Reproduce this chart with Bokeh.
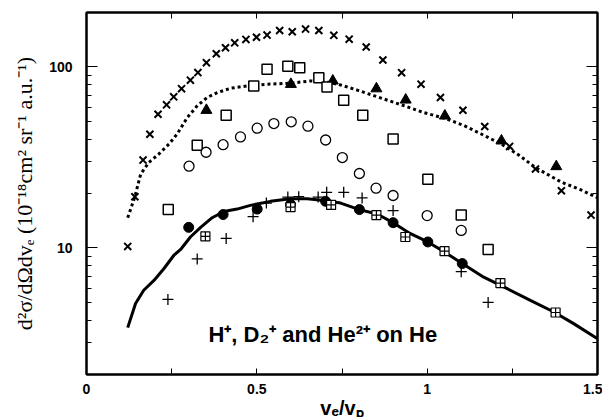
from bokeh.plotting import figure
from bokeh.models import Range1d, FixedTicker, LinearAxis, LogAxis, Label
from bokeh.embed import file_html
from bokeh.resources import INLINE

# ---- data ----
x_ticks = [0, 0.25, 0.5, 0.75, 1.0, 1.25, 1.5]
x_tick_labels = {0: "0", 0.25: "", 0.5: "0.5", 0.75: "", 1.0: "1", 1.25: "", 1.5: "1.5"}
y_major = [10, 100]
y_minor = [2, 3, 4, 5, 6, 7, 8, 9, 20, 30, 40, 50, 60, 70, 80, 90, 200]

# x (crosses, diagonal)
xx = [0.121, 0.142, 0.166, 0.186, 0.210, 0.235, 0.256, 0.279, 0.305, 0.327, 0.352, 0.381,
      0.408, 0.435, 0.468, 0.499, 0.530, 0.567, 0.604, 0.643, 0.682, 0.726, 0.771, 0.821,
      0.870, 0.925, 0.982, 1.039, 1.105, 1.169, 1.242, 1.318, 1.394, 1.481]
yx = [10.2, 19.2, 30.6, 42.5, 54.8, 61.8, 68.4, 75.9, 84.6, 93.1, 105.6, 118.4,
      127.7, 136, 142, 146, 150, 159, 156.6, 162, 159, 149.6, 142.5, 128.9,
      109.3, 93, 80.4, 67.8, 57.7, 46.9, 36.4, 27.3, 20.7, 15.2]

# filled triangles
xt = [0.352, 0.600, 0.723, 0.851, 0.937, 1.052, 1.218, 1.379]
yt = [57.7, 80.3, 83.8, 75.9, 65.8, 53.7, 39.1, 28.2]

# dotted theory curve
xd = [0.121, 0.142, 0.159, 0.183, 0.212, 0.242, 0.266, 0.296, 0.325, 0.354, 0.384, 0.423,
      0.472, 0.530, 0.599, 0.658, 0.716, 0.746, 0.795, 0.843, 0.922, 0.990, 1.052, 1.108,
      1.160, 1.218, 1.270, 1.318, 1.394, 1.450, 1.499]
yd = [14.7, 19.2, 25.6, 29.7, 33.0, 37.5, 42.6, 52.6, 61.0, 67.8, 72.2, 76.3,
      78.6, 80.3, 81.3, 83.8, 82.0, 79.5, 74.5, 69.5, 62.0, 56.0, 52.0, 47.5,
      42.5, 37.5, 32.5, 27.8, 23.1, 21.0, 19.0]

# open squares
xs = [0.240, 0.325, 0.410, 0.491, 0.530, 0.591, 0.626, 0.682, 0.706, 0.755, 0.811, 0.900,
      1.002, 1.100, 1.179]
ys = [16.3, 37.0, 54.2, 78.6, 97.1, 101, 99, 87.3, 77.6, 65.6, 54.2, 40.0,
      24.0, 15.2, 9.8]

# open circles
xo = [0.301, 0.351, 0.401, 0.452, 0.501, 0.550, 0.601, 0.650, 0.702, 0.751, 0.801, 0.850,
      0.900, 1.000, 1.100]
yo = [28.3, 33.8, 37.2, 41.1, 45.9, 48.7, 49.8, 47.1, 39.5, 31.6, 25.8, 21.4,
      19.5, 15.1, 12.5]

# plus signs
xp = [0.239, 0.325, 0.410, 0.489, 0.528, 0.591, 0.623, 0.680, 0.705, 0.755, 0.809, 0.900,
      1.100, 1.179]
yp = [5.2, 8.7, 11.3, 14.9, 17.7, 19.1, 19.2, 19.1, 20.3, 20.3, 18.9, 16.1,
      7.4, 5.0]

# filled circles
xf = [0.300, 0.401, 0.501, 0.599, 0.702, 0.801, 0.900, 1.002, 1.103]
yf = [13.0, 15.3, 16.4, 17.4, 18.1, 16.3, 13.8, 10.8, 8.2]

# boxed plus
xq = [0.349, 0.599, 0.718, 0.851, 0.936, 1.051, 1.215, 1.377]
yq = [11.6, 16.8, 17.3, 15.2, 11.5, 9.6, 6.4, 4.4]

# solid theory curve
xl = [0.121, 0.144, 0.168, 0.198, 0.227, 0.256, 0.278, 0.305, 0.335, 0.369, 0.403, 0.442,
      0.481, 0.540, 0.599, 0.648, 0.697, 0.746, 0.801, 0.853, 0.900, 0.951, 1.002, 1.051,
      1.103, 1.166, 1.235, 1.303, 1.372, 1.430, 1.499]
yl = [3.63, 4.93, 5.84, 6.62, 7.68, 9.09, 9.9, 11.5, 13.0, 14.7, 15.9, 16.4,
      17.2, 18.1, 18.7, 18.7, 18.3, 17.7, 16.3, 15.4, 13.8, 12.0, 10.8, 9.5,
      8.2, 6.9, 5.96, 5.14, 4.43, 3.82, 3.16]

x_title = "vₑ/vₚ"
y_title = "d²σ/dΩdvₑ (10⁻¹⁸cm² sr⁻¹ a.u.⁻¹)"
annotation = "H⁺, D₂⁺ and He²⁺ on He"

# ---- figure ----
p = figure(width=602, height=425, output_backend="svg", toolbar_location=None,
           y_axis_type="log", x_range=Range1d(0, 1.5), y_range=Range1d(2, 200),
           min_border_left=86, min_border_right=5, min_border_top=12, min_border_bottom=51)
p.background_fill_color = "white"
p.border_fill_color = "white"
p.grid.visible = False
p.outline_line_color = "black"
p.outline_line_width = 2

sans = "Liberation Sans"

def style_axis(ax, labels=True):
    ax.axis_line_color = "black"
    ax.axis_line_width = 2
    ax.major_tick_out = 0
    ax.minor_tick_out = 0
    ax.major_tick_line_color = "black"
    ax.minor_tick_line_color = "black"
    ax.major_tick_line_width = 1
    ax.minor_tick_line_width = 1
    ax.major_label_text_font = sans
    ax.major_label_text_font_style = "bold"
    ax.major_label_text_font_size = "14px"
    ax.major_label_text_color = "black"
    if not labels:
        ax.major_label_text_font_size = "0px"
        ax.major_label_text_alpha = 0

xa = p.xaxis[0]
xa.ticker = FixedTicker(ticks=x_ticks)
xa.major_label_overrides = x_tick_labels
style_axis(xa)
xa.major_tick_in = 6
xa.major_label_standoff = 9
xa.axis_label = x_title
xa.axis_label_text_font = sans
xa.axis_label_text_font_style = "bold"
xa.axis_label_text_font_size = "20px"
xa.axis_label_text_color = "black"
xa.axis_label_standoff = 0

ya = p.yaxis[0]
ya.ticker = FixedTicker(ticks=y_major, minor_ticks=y_minor)
ya.major_label_overrides = {10: "10", 100: "100"}
style_axis(ya)
ya.major_tick_in = 11
ya.minor_tick_in = 5
ya.major_label_standoff = 14
ya.axis_label = y_title
ya.axis_label_text_font = "Liberation Serif"
ya.axis_label_text_font_style = "normal"
ya.axis_label_text_font_size = "22px"
ya.axis_label_text_color = "black"
ya.axis_label_standoff = 9

top = LinearAxis(ticker=FixedTicker(ticks=x_ticks), major_label_overrides={t: "" for t in x_ticks})
style_axis(top, labels=False)
top.major_tick_in = 6
p.add_layout(top, "above")

right = LogAxis(ticker=FixedTicker(ticks=y_major, minor_ticks=y_minor),
                major_label_overrides={10: "", 100: ""})
style_axis(right, labels=False)
right.major_tick_in = 11
right.minor_tick_in = 5
p.add_layout(right, "right")

# ---- curves ----
p.line(xd, yd, line_color="black", line_width=3, line_dash="3 3")
p.line(xl, yl, line_color="black", line_width=3)

# ---- markers ----
p.scatter(xx, yx, marker="x", size=10, line_color="black", line_width=2)
p.scatter(xt, yt, marker="triangle", size=11, fill_color="black", line_color="black")
p.scatter(xs, ys, marker="square", size=10, fill_color="white", line_color="black", line_width=1.5)
p.scatter(xo, yo, marker="circle", size=10, fill_color="white", line_color="black", line_width=1.3)
p.scatter(xp, yp, marker="cross", size=11, line_color="black", line_width=1.3)
p.scatter(xf, yf, marker="circle", size=10, fill_color="black", line_color="black")
p.scatter(xq, yq, marker="square_cross", size=9, fill_color="white", line_color="black", line_width=1.2)

# ---- texts ----
p.add_layout(Label(x=0.358, y=3.34, text=annotation, text_font=sans, text_font_style="bold",
                   text_font_size="22px", text_color="black", text_baseline="alphabetic",
                   text_align="left"))

open("out.html", "w").write(file_html(p, INLINE))
